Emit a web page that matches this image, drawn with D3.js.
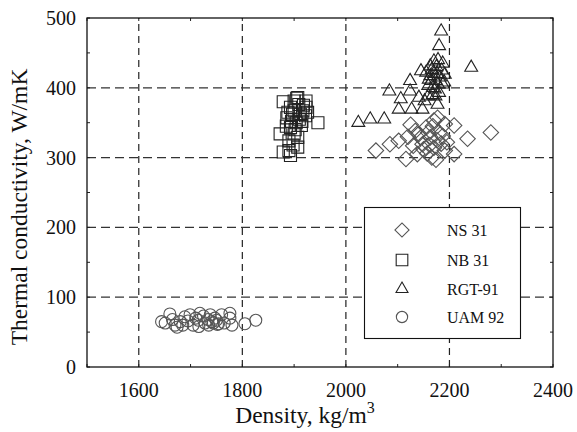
<!DOCTYPE html>
<html><head><meta charset="utf-8">
<script src="https://cdn.jsdelivr.net/npm/d3@7"></script>
<style>body{margin:0;background:#fff}</style>
</head><body>
<svg id="c" width="577" height="432"></svg>
<script>
const xTicks = [1600, 1800, 2000, 2200, 2400];
const yTicks = [0, 100, 200, 300, 400, 500];
const seriesNames = ["NS 31", "NB 31", "RGT-91", "UAM 92"];

const ns31 = [[2058,310],[2085,319],[2102,324],[2116,298],[2125,347],[2130,317],[2134,338],[2138,305],[2141,334],[2145,329],[2148,319],[2155,343],[2157,306],[2159,336],[2163,329],[2166,300],[2170,353],[2170,314],[2174,297],[2177,357],[2180,336],[2184,320],[2187,331],[2191,348],[2191,310],[2209,346],[2209,305],[2235,327],[2280,336],[2150,312],[2162,318],[2176,325],[2168,345],[2195,322],[2120,330]];
const nb31 = [[1879,380],[1873,334],[1879,308],[1893,303],[1907,315],[1886,357],[1893,372],[1900,381],[1907,386],[1923,381],[1923,372],[1922,360],[1914,346],[1900,334],[1893,343],[1907,329],[1946,350],[1910,355],[1897,362],[1890,324],[1904,350],[1917,367],[1900,367],[1909,376],[1885,345],[1888,365],[1895,352],[1902,340],[1912,362],[1918,375],[1905,385],[1890,310],[1898,318],[1915,352],[1926,365]];
const rgt91 = [[2024,350],[2047,355],[2074,355],[2084,395],[2102,369],[2106,384],[2124,410],[2127,369],[2124,395],[2141,386],[2145,424],[2148,369],[2152,381],[2159,403],[2163,417],[2166,426],[2170,438],[2173,410],[2177,376],[2180,393],[2184,481],[2180,460],[2187,435],[2191,419],[2187,405],[2173,388],[2242,429],[2159,388],[2163,431],[2155,422],[2168,400],[2176,420],[2165,410],[2170,420],[2175,430],[2178,440],[2182,415],[2185,425],[2168,390],[2172,398],[2160,412],[2178,405],[2190,408]];
const uam92 = [[1644,65],[1651,63],[1660,76],[1670,60],[1680,65],[1689,72],[1699,75],[1705,60],[1715,67],[1718,77],[1728,63],[1738,75],[1741,65],[1747,70],[1754,62],[1760,75],[1776,77],[1780,60],[1805,62],[1826,67],[1674,57],[1716,58],[1734,68],[1744,63],[1752,61],[1776,70],[1665,68],[1685,60],[1695,66],[1710,70],[1725,73],[1735,60],[1750,67],[1765,63]];

const svg = d3.select("#c");
const x = d3.scaleLinear().domain([1500, 2400]).range([87, 553]);
const y = d3.scaleLinear().domain([0, 500]).range([367, 18]);
const font = "'Liberation Serif', 'Times New Roman', serif";

// gridlines
svg.append("g").selectAll("line").data(xTicks.slice(0, -1)).join("line")
  .attr("x1", d => x(d)).attr("x2", d => x(d)).attr("y1", y(0)).attr("y2", y(500))
  .attr("stroke", "#222").attr("stroke-width", 1.2).attr("stroke-dasharray", "7,5");
svg.append("g").selectAll("line").data(yTicks.slice(1, -1)).join("line")
  .attr("x1", x(1500)).attr("x2", x(2400)).attr("y1", d => y(d)).attr("y2", d => y(d))
  .attr("stroke", "#333").attr("stroke-width", 1.2).attr("stroke-dasharray", "9,5");

// minor inward ticks
const xt = d3.range(1500, 2401, 100), yt = d3.range(0, 501, 50);
const tk = svg.append("g").attr("stroke", "#222").attr("stroke-width", 1);
xt.forEach(v => {
  tk.append("line").attr("x1", x(v)).attr("x2", x(v)).attr("y1", y(0)).attr("y2", y(0) - 3);
  tk.append("line").attr("x1", x(v)).attr("x2", x(v)).attr("y1", y(500)).attr("y2", y(500) + 3);
});
yt.forEach(v => {
  tk.append("line").attr("x1", x(1500)).attr("x2", x(1500) + 3).attr("y1", y(v)).attr("y2", y(v));
  tk.append("line").attr("x1", x(2400)).attr("x2", x(2400) - 3).attr("y1", y(v)).attr("y2", y(v));
});

// frame
svg.append("rect").attr("x", x(1500)).attr("y", y(500)).attr("width", x(2400) - x(1500)).attr("height", y(0) - y(500))
  .attr("fill", "none").attr("stroke", "#111").attr("stroke-width", 1.3);

// tick labels
svg.append("g").selectAll("text").data(xTicks).join("text")
  .attr("x", d => x(d)).attr("y", 397).attr("text-anchor", "middle")
  .attr("font-family", font).attr("font-size", 20).attr("fill", "#111").text(d => d);
svg.append("g").selectAll("text").data(yTicks).join("text")
  .attr("x", 76).attr("y", d => y(d) + 7).attr("text-anchor", "end")
  .attr("font-family", font).attr("font-size", 20).attr("fill", "#111").text(d => d);

// titles
const xt2 = svg.append("text").attr("x", 305).attr("y", 423).attr("text-anchor", "middle")
  .attr("font-family", font).attr("font-size", 23.5).attr("fill", "#111");
xt2.append("tspan").text("Density, kg/m");
xt2.append("tspan").attr("dy", -10).attr("font-size", 16).text("3");
svg.append("text").attr("transform", "translate(27,207) rotate(-90)").attr("text-anchor", "middle")
  .attr("font-family", font).attr("font-size", 23.5).attr("fill", "#111").text("Thermal conductivity, W/mK");

// symbols
const sym = [
  d3.symbol().type(d3.symbolSquare).size(120),
  d3.symbol().type(d3.symbolSquare).size(145),
  d3.symbol().type(d3.symbolTriangle).size(72),
  d3.symbol().type(d3.symbolCircle).size(112)
];
const rot = [45, 0, 0, 0];
const col = ["#555", "#222", "#222", "#555"];
const data = [ns31, nb31, rgt91, uam92];
data.forEach((ds, i) => {
  svg.append("g").selectAll("path").data(ds).join("path")
    .attr("d", sym[i]())
    .attr("transform", d => `translate(${x(d[0])},${y(d[1])}) rotate(${rot[i]})`)
    .attr("fill", "none").attr("stroke", col[i]).attr("stroke-width", 1.1);
});

// legend
const lg = svg.append("g");
lg.append("rect").attr("x", 364.5).attr("y", 207.5).attr("width", 156).attr("height", 131)
  .attr("fill", "#fff").attr("stroke", "#111").attr("stroke-width", 1.1);
const ly = [230, 260, 289, 317];
const lsym = [
  d3.symbol().type(d3.symbolSquare).size(100),
  d3.symbol().type(d3.symbolSquare).size(135),
  d3.symbol().type(d3.symbolTriangle).size(62),
  d3.symbol().type(d3.symbolCircle).size(100)
];
seriesNames.forEach((n, i) => {
  lg.append("path").attr("d", lsym[i]()).attr("transform", `translate(402,${ly[i]}) rotate(${rot[i]})`)
    .attr("fill", "none").attr("stroke", col[i]).attr("stroke-width", 1.1);
  lg.append("text").attr("x", 447).attr("y", ly[i] + 5.5).attr("font-family", font).attr("font-size", 16)
    .attr("fill", "#111").text(n);
});
</script>
</body></html>
